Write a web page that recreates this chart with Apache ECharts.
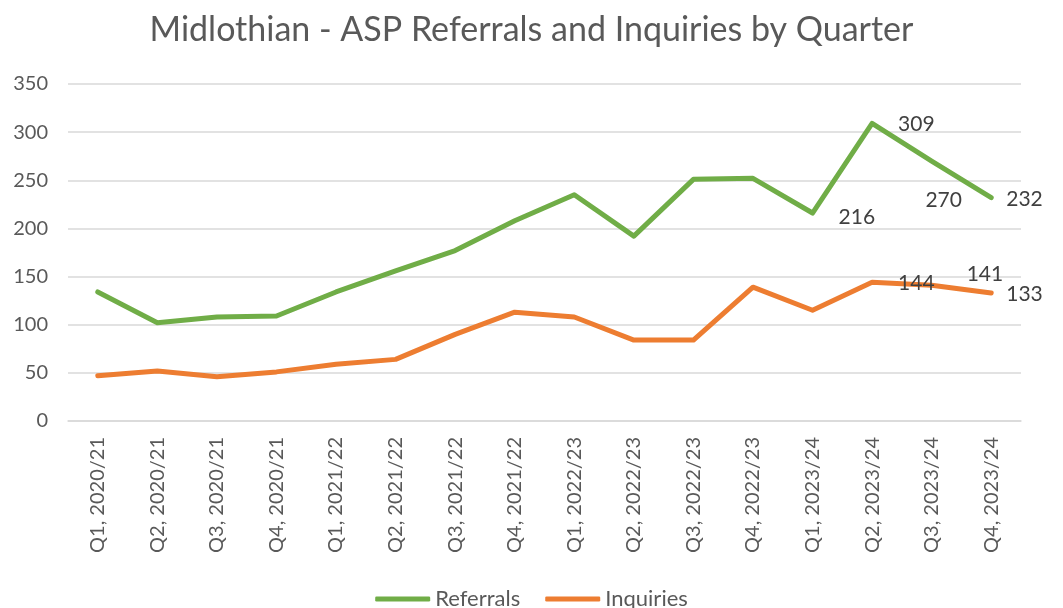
<!DOCTYPE html>
<html>
<head>
<meta charset="utf-8">
<script src="https://cdn.jsdelivr.net/npm/echarts@6/dist/echarts.min.js"></script>
<style>
  html, body { margin: 0; padding: 0; background: #fff; }
  #chart { width: 1063px; height: 608px; }
</style>
</head>
<body>
<div id="chart"></div>
<script>
  // quarters on the x axis
  var quarters = [
    'Q1, 2020/21', 'Q2, 2020/21', 'Q3, 2020/21', 'Q4, 2020/21',
    'Q1, 2021/22', 'Q2, 2021/22', 'Q3, 2021/22', 'Q4, 2021/22',
    'Q1, 2022/23', 'Q2, 2022/23', 'Q3, 2022/23', 'Q4, 2022/23',
    'Q1, 2023/24', 'Q2, 2023/24', 'Q3, 2023/24', 'Q4, 2023/24'
  ];
  var referrals = [134, 102, 108, 109, 134, 156, 177, 208, 235, 192, 251, 252, 216, 309, 270, 232];
  var inquiries = [47, 52, 46, 51, 59, 64, 90, 113, 108, 84, 84, 139, 115, 144, 141, 133];

  var font = 'Lato, "Open Sans", sans-serif';
  var textGrey = '#595959';

  // which points get a value label, and where it sits
  var refLabels = {
    12: { position: 'right', distance: 25, offset: [0, 4] },
    13: { position: 'right', distance: 25, offset: [0, 1] },
    14: { position: 'bottom', distance: 28, offset: [12, 0] },
    15: { position: 'right', distance: 14, offset: [0, 2] }
  };
  var inqLabels = {
    13: { position: 'right', distance: 25, offset: [0, 1] },
    14: { position: 'right', distance: 20, offset: [14, -11] },
    15: { position: 'right', distance: 14, offset: [0, 1] }
  };

  function withLabels(values, labels) {
    return values.map(function (v, i) {
      if (!labels[i]) return v;
      var l = labels[i];
      return {
        value: v,
        label: {
          show: true,
          position: l.position,
          distance: l.distance,
          offset: l.offset || [0, 0],
          color: '#404040',
          fontSize: 21,
          fontFamily: font
        }
      };
    });
  }

  var myChart = echarts.init(document.getElementById('chart'));
  var option = {
    animation: false,
    backgroundColor: '#fff',
    title: {
      text: 'Midlothian - ASP Referrals and Inquiries by Quarter',
      left: 'center',
      top: 8,
      textStyle: {
        color: textGrey,
        fontSize: 34,
        fontWeight: 'normal',
        fontFamily: font
      }
    },
    legend: {
      top: 583,
      left: 'center',
      itemWidth: 55,
      itemHeight: 5,
      itemGap: 25,
      icon: 'roundRect',
      textStyle: { color: textGrey, fontSize: 22, fontFamily: font },
      data: ['Referrals', 'Inquiries']
    },
    grid: {
      left: 68,
      right: 42,
      top: 84,
      bottom: 187
    },
    xAxis: {
      type: 'category',
      data: quarters,
      boundaryGap: true,
      axisLine: { lineStyle: { color: '#d9d9d9', width: 1.5 } },
      axisTick: { show: false },
      axisLabel: {
        rotate: 90,
        color: textGrey,
        fontSize: 20,
        fontFamily: font,
        margin: 16,
        interval: 0
      }
    },
    yAxis: {
      type: 'value',
      min: 0,
      max: 350,
      interval: 50,
      axisLine: { show: false },
      axisTick: { show: false },
      splitLine: { lineStyle: { color: '#d9d9d9', width: 1.5 } },
      axisLabel: {
        color: textGrey,
        fontSize: 20,
        fontFamily: font,
        margin: 20
      }
    },
    series: [
      {
        name: 'Referrals',
        type: 'line',
        data: withLabels(referrals, refLabels),
        symbol: 'circle',
        symbolSize: 2,
        color: '#70AD47',
        lineStyle: { width: 5, color: '#70AD47', cap: 'round', join: 'round' }
      },
      {
        name: 'Inquiries',
        type: 'line',
        data: withLabels(inquiries, inqLabels),
        symbol: 'circle',
        symbolSize: 2,
        color: '#ED7D31',
        lineStyle: { width: 5, color: '#ED7D31', cap: 'round', join: 'round' }
      }
    ]
  };
  myChart.setOption(option);
</script>
</body>
</html>
